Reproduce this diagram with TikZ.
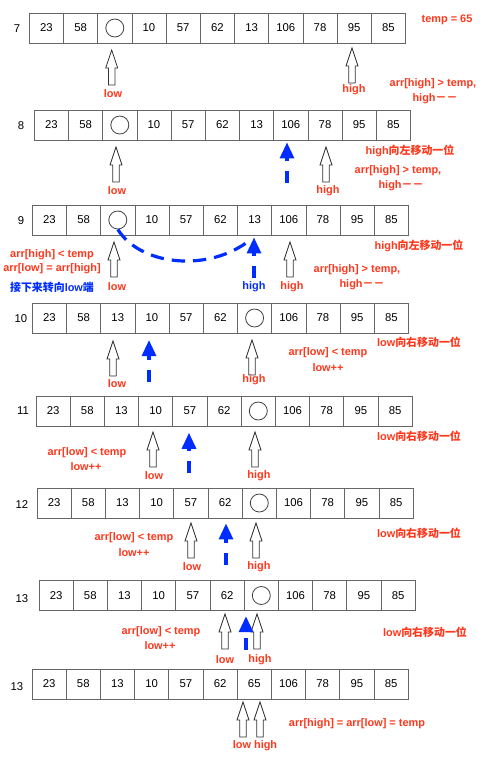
\documentclass[tikz,border=0pt]{standalone}
\usepackage{fontspec}
\setmainfont{Liberation Sans}
\newfontfamily\cjk{Noto Sans CJK SC}
\usetikzlibrary{arrows.meta}
\definecolor{lred}{RGB}{255,55,28}
\definecolor{lblue}{RGB}{0,45,255}
\newcommand\arrrow[4]{%
  \foreach \v [count=\i] in {#4} {\node[cell] (#1c\i) at ({#2+(\i-0.5)*34.2}, #3) {\v};}}
\begin{document}
\begin{tikzpicture}[x=0.75pt,y=-0.75pt,
  cell/.style={draw=black!60, line width=0.6pt, minimum width=25.65pt, minimum height=22.5pt,
    inner sep=0pt, font=\fontsize{8.5}{10}\selectfont},
  circ/.style={circle, draw=black!75, line width=0.6pt, minimum size=13.5pt, inner sep=0pt},
  rowlbl/.style={font=\fontsize{8.5}{10}\selectfont, inner sep=0pt},
  rl/.style={text=lred, font=\fontsize{8.2}{10}\selectfont\bfseries, inner sep=0pt},
  bl/.style={text=lblue, font=\fontsize{8.2}{10}\selectfont\bfseries, inner sep=0pt},
  pics/uparr/.style={code={\draw[black!80, line width=0.6pt, fill=white]
    (0,0) -- (6,18) -- (3.2,18) -- (3.2,35) -- (-3.2,35) -- (-3.2,18) -- (-6,18) -- cycle;}},
  bluearr/.style={draw=lblue, line width=2.4pt, dash pattern=on 9pt off 7.5pt on 40pt,
    -{Triangle[length=12pt,width=10.5pt]}},
  bluedash/.style={draw=lblue, line width=2.4pt, dash pattern=on 10pt off 6pt}
]
\useasboundingbox (0,0) rectangle (485,758);

% ---------- row 7
\node[rowlbl] (n7) at (17,29) {7};
\arrrow{r7}{29.3}{28}{23,58,{},10,57,62,13,106,78,95,85}
\node[circ] (r7o) at (r7c3) {};
\pic at (111.7,50) {uparr};
\pic at (352,48) {uparr};
\node[rl] (t7a) at (113,94) {low};
\node[rl] (t7b) at (354,90) {high};
\node[rl] (t7c) at (447,20) {temp = 65};
\node[rl] (t7d) at (433,84) {arr[high] > temp,};
\node[rl] (t7e) at (435,99) {high{\cjk －－}};

% ---------- row 8
\node[rowlbl] (n8) at (21,126) {8};
\arrrow{r8}{34.3}{125}{23,58,{},10,57,62,13,106,78,95,85}
\node[circ] (r8o) at (r8c3) {};
\pic at (116,147) {uparr};
\pic at (326,147) {uparr};
\coordinate (b8) at (287,183);
\draw[bluearr, shorten >=1.5pt] (b8) -- (b8 |- r8c8.south);
\node[rl] (t8a) at (117,191) {low};
\node[rl] (t8b) at (328,191) {high};
\node[rl] (t8c) at (410,151) {high{\cjk 向左移动一位}};
\node[rl] (t8d) at (398,171) {arr[high] > temp,};
\node[rl] (t8e) at (401,186) {high{\cjk －－}};

% ---------- row 9
\node[rowlbl] (n9) at (21,221) {9};
\arrrow{r9}{32.3}{220}{23,58,{},10,57,62,13,106,78,95,85}
\node[circ] (r9o) at (r9c3) {};
\pic at (114,242) {uparr};
\pic at (290,242) {uparr};
\coordinate (b9) at (254,278);
\draw[bluearr, shorten >=1.5pt] (b9) -- (b9 |- r9c7.south);
\coordinate (c9) at (246,243);
\draw[bluedash] (r9o.south) .. controls (140,265) and (205,272) .. (c9);
\node[rl] (t9a) at (117,287) {low};
\node[bl] (t9b) at (254,287) {high};
\node[rl] (t9c) at (292,287) {high};
\node[rl] (t9d) at (52,255) {arr[high] < temp};
\node[rl] (t9e) at (52,269) {arr[low] = arr[high]};
\node[bl] (t9f) at (52,287) {{\cjk 接下来转向}low{\cjk 端}};
\node[rl] (t9g) at (419,246) {high{\cjk 向左移动一位}};
\node[rl] (t9h) at (357,270) {arr[high] > temp,};
\node[rl] (t9i) at (362,285) {high{\cjk －－}};

% ---------- row 10
\node[rowlbl] (n10) at (21,319) {10};
\arrrow{r10}{32.3}{318}{23,58,13,10,57,62,{},106,78,95,85}
\node[circ] (r10o) at (r10c7) {};
\pic at (113,341) {uparr};
\pic at (252,340) {uparr};
\coordinate (b10) at (149,382);
\draw[bluearr, shorten >=5pt] (b10) -- (b10 |- r10c4.south);
\node[rl] (t10a) at (117,384) {low};
\node[rl] (t10b) at (254,380) {high};
\node[rl] (t10c) at (419,342) {low{\cjk 向右移动一位}};
\node[rl] (t10d) at (328,353) {arr[low] < temp};
\node[rl] (t10e) at (328,368) {low++};

% ---------- row 11
\node[rowlbl] (n11) at (23,411) {11};
\arrrow{r11}{36}{411}{23,58,13,10,57,62,{},106,78,95,85}
\node[circ] (r11o) at (r11c7) {};
\pic at (153,432) {uparr};
\pic at (255,432) {uparr};
\coordinate (b11) at (189,473);
\draw[bluearr, shorten >=4.8pt] (b11) -- (b11 |- r11c5.south);
\node[rl] (t11a) at (154,476) {low};
\node[rl] (t11b) at (259,476) {high};
\node[rl] (t11c) at (87,453) {arr[low] < temp};
\node[rl] (t11d) at (86,467) {low++};
\node[rl] (t11e) at (419,436) {low{\cjk 向右移动一位}};

% ---------- row 12
\node[rowlbl] (n12) at (22,505) {12};
\arrrow{r12}{37}{503}{23,58,13,10,57,62,{},106,78,95,85}
\node[circ] (r12o) at (r12c7) {};
\pic at (191,523) {uparr};
\pic at (256,523) {uparr};
\coordinate (b12) at (226,565);
\draw[bluearr, shorten >=3.8pt] (b12) -- (b12 |- r12c6.south);
\node[rl] (t12a) at (192,567) {low};
\node[rl] (t12b) at (259,567) {high};
\node[rl] (t12c) at (134,538) {arr[low] < temp};
\node[rl] (t12d) at (134,553) {low++};
\node[rl] (t12e) at (419,533) {low{\cjk 向右移动一位}};

% ---------- row 13 (a)
\node[rowlbl] (n13) at (22,599) {13};
\arrrow{r13}{39}{595.5}{23,58,13,10,57,62,{},106,78,95,85}
\node[circ] (r13o) at (r13c7) {};
\pic at (225,614) {uparr};
\pic at (257,614) {uparr};
\coordinate (b13) at (246,650);
\draw[bluearr, shorten >=4pt] (b13) -- (b13 |- r13c6.south);
\node[rl] (t13a) at (225,660) {low};
\node[rl] (t13b) at (260,660) {high};
\node[rl] (t13c) at (161,632) {arr[low] < temp};
\node[rl] (t13d) at (160,646) {low++};
\node[rl] (t13e) at (425,632) {low{\cjk 向右移动一位}};

% ---------- row 13 (b)
\node[rowlbl] (n14) at (17,687) {13};
\arrrow{r14}{32}{684}{23,58,13,10,57,62,65,106,78,95,85}
\pic at (243,702) {uparr};
\pic at (260,702) {uparr};
\node[rl] (t14a) at (255,746) {low high};
\node[rl] (t14b) at (357,724) {arr[high] = arr[low] = temp};
\end{tikzpicture}
\end{document}
